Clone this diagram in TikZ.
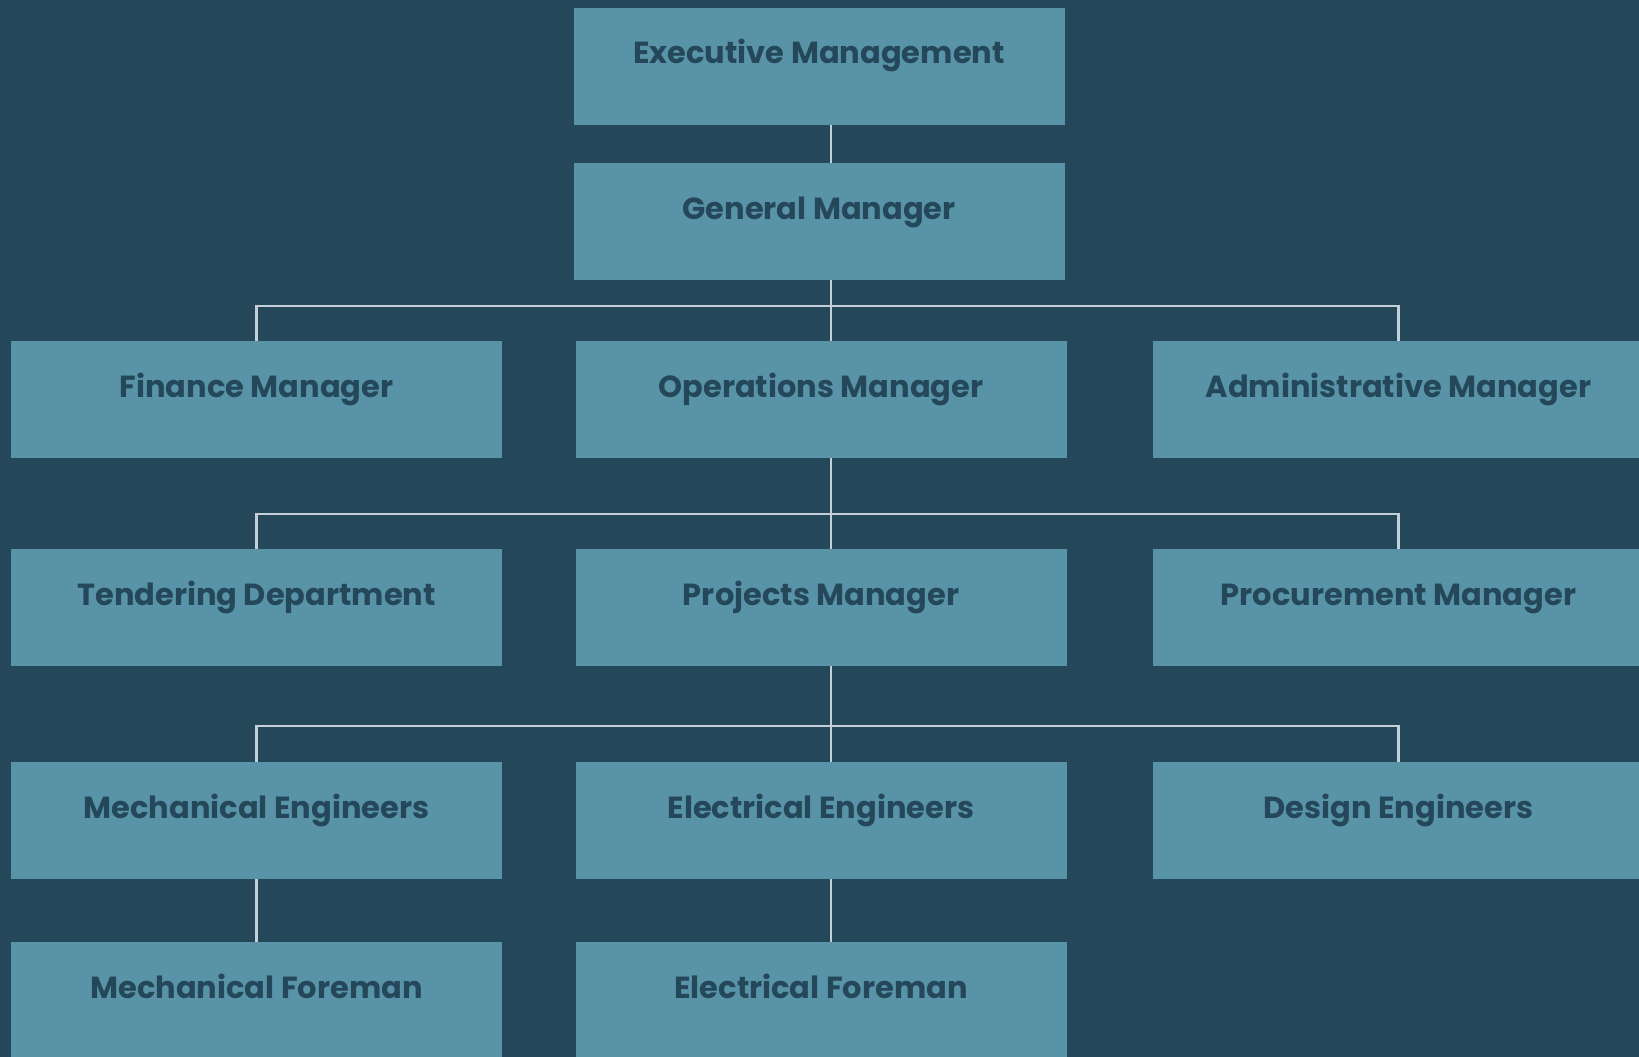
\documentclass[tikz,border=0pt]{standalone}
\usepackage{fontspec}
\setmainfont{Poppins}
\definecolor{bgnavy}{HTML}{244859}
\definecolor{boxteal}{HTML}{5893A8}
\definecolor{linkgrey}{HTML}{C5CFD7}
\begin{document}
\begin{tikzpicture}
    [
        x=1pt, y=-1pt,
        post/.style={fill=boxteal, text=bgnavy, minimum width=491pt, minimum height=117pt, inner sep=0pt, font=\fontsize{30.5}{34}\selectfont\bfseries, text height=24pt, text depth=29pt},
        link/.style={draw=linkgrey, line width=2.4pt}
    ]
    \useasboundingbox[fill=bgnavy] (0,0) rectangle (1639,1057);

    \node[post] (exec) at (819,66.5) {Executive Management};
    \node[post] (gm) at (819,221.5) {General Manager};
    \node[post] (fin) at (256.5,399.5) {Finance Manager};
    \node[post] (ops) at (821,399.5) {Operations Manager};
    \node[post] (adm) at (1398.5,399.5) {Administrative Manager};
    \node[post] (tend) at (256.5,607.5) {Tendering Department};
    \node[post] (proj) at (821,607.5) {Projects Manager};
    \node[post] (proc) at (1398.5,607.5) {Procurement Manager};
    \node[post] (mech) at (256.5,820.5) {Mechanical Engineers};
    \node[post] (elec) at (821,820.5) {Electrical Engineers};
    \node[post] (des) at (1398.5,820.5) {Design Engineers};
    \node[post] (mfore) at (256.5,1000.5) {Mechanical Foreman};
    \node[post] (efore) at (821,1000.5) {Electrical Foreman};

    \draw[link] ([xshift=12pt]exec.south) -- ([xshift=12pt]gm.north);
    \draw[link] ([xshift=12pt]gm.south) -- ([xshift=10pt]ops.north);
    \draw[link] (fin.north) -- ++(0,-35) -| (adm.north);
    \draw[link] ([xshift=10pt]ops.south) -- ([xshift=10pt]proj.north);
    \draw[link] (tend.north) -- ++(0,-35) -| (proc.north);
    \draw[link] ([xshift=10pt]proj.south) -- ([xshift=10pt]elec.north);
    \draw[link] (mech.north) -- ++(0,-36) -| (des.north);
    \draw[link] (mech.south) -- (mfore.north);
    \draw[link] ([xshift=10pt]elec.south) -- ([xshift=10pt]efore.north);
\end{tikzpicture}
\end{document}
